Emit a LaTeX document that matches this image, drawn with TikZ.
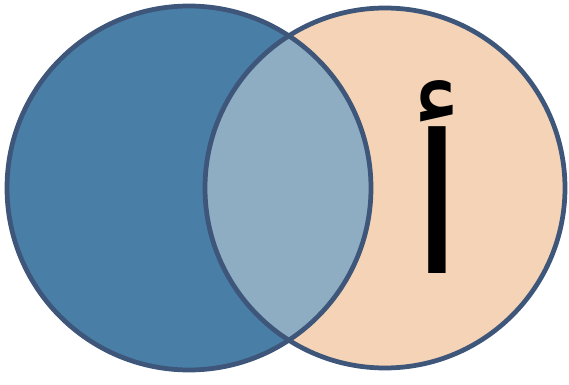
\documentclass[tikz,border=0pt]{standalone}
\usepackage{fontspec}
\TeXXeTstate=1
\newfontfamily\arabicfont[Script=Arabic]{DejaVu Sans}
\definecolor{rimblue}{RGB}{61,86,122}
\definecolor{leftblue}{RGB}{73,126,166}
\definecolor{lensblue}{RGB}{142,173,194}
\definecolor{peach}{RGB}{244,211,182}
\tikzset{
  setfill/.style={draw=none},
  setrim/.style={draw=rimblue, line width=2.7pt},
  letterlabel/.style={font=\arabicfont\fontsize{110}{110}\selectfont, inner sep=0pt},
}

\begin{document}
\begin{tikzpicture}[x=0.02cm, y=-0.02cm]
\useasboundingbox (0,0) rectangle (569,385);
\fill[setfill, leftblue] (189,188) circle (182);
\fill[setfill, peach] (385,188) circle (180);
\begin{scope}
  \clip (385,188) circle (180);
  \fill[setfill, lensblue] (189,188) circle (182);
\end{scope}
\draw[setrim] (189,188) circle (182);
\draw[setrim] (385,188) circle (180);
\node[letterlabel] (alef) at (437,177) {\beginR أ\endR};
\end{tikzpicture}
\end{document}
